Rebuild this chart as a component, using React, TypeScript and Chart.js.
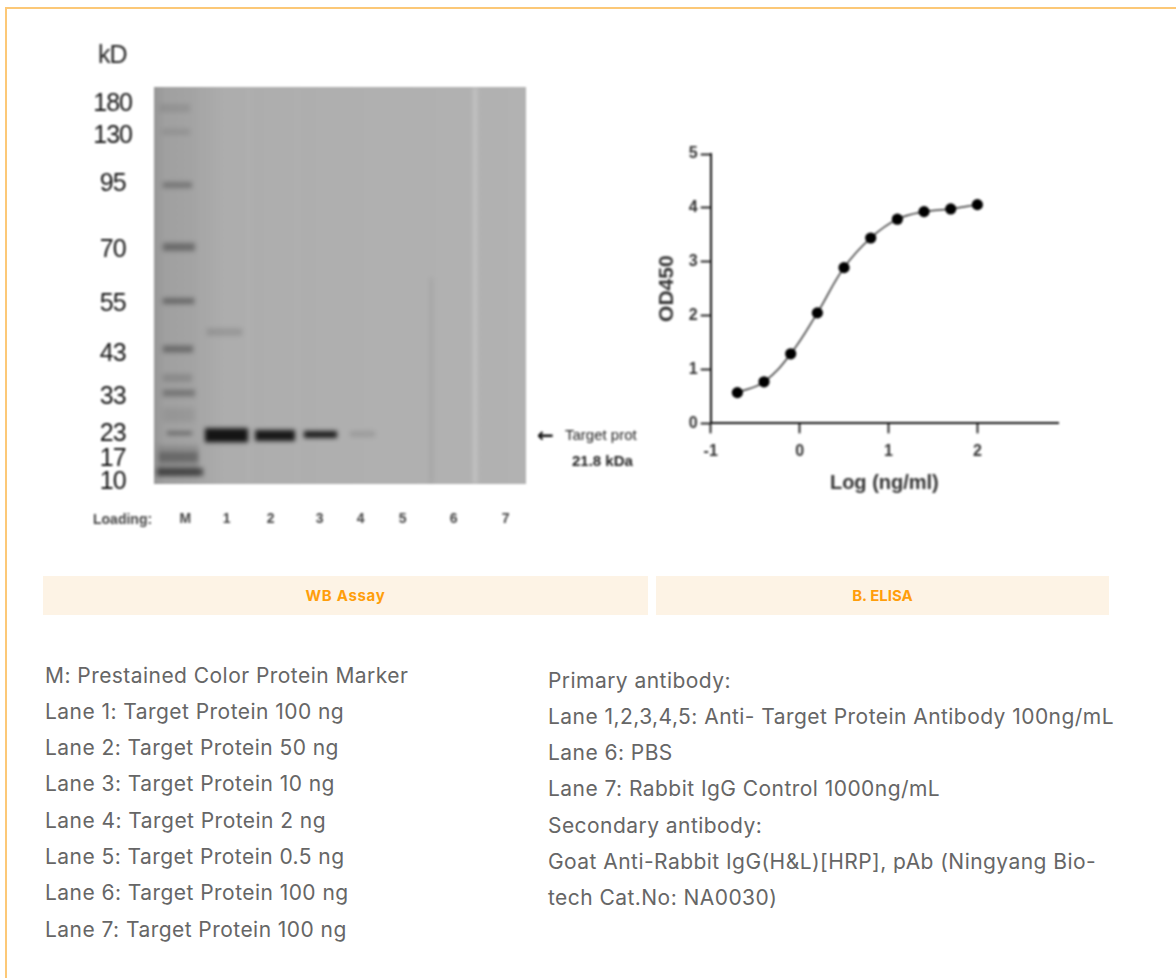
import React, { useEffect, useRef } from "react";
import { Chart, registerables } from "chart.js";

Chart.register(...registerables);

// ELISA curve
const logConc = [-0.7, -0.4, -0.1, 0.2, 0.5, 0.8, 1.1, 1.4, 1.7, 2.0];
const od450 = [0.57, 0.77, 1.29, 2.05, 2.89, 3.44, 3.79, 3.93, 3.98, 4.06];
const xTicksElisa = [-1, 0, 1, 2];
const yTicksElisa = [0, 1, 2, 3, 4, 5];

// Western blot: lanes (percent of membrane width) and ladder (percent of membrane height)
const laneLabels = ["M", "1", "2", "3", "4", "5", "6", "7"];
const laneAcross = [8.3, 19.4, 31.2, 44.4, 55.4, 66.7, 80.4, 94.4];
const kdLabels = ["180", "130", "95", "70", "55", "43", "33", "23", "17", "10"];
const kdMigration = [4.4, 12.3, 24.4, 41.1, 54.7, 67.3, 78.1, 87.4, 93.7, 99.6];

// Bands on the membrane
const bandStart = [1.6, 2.2, 2.4, 2.4, 2.4, 2.4, 2.4, 2.4, 3.5, 1.3, 0.8, 14.2, 13.7, 27.2, 40.3, 52.7, 1.0, 2.4];
const bandEnd = [9.7, 9.7, 10.2, 11.0, 10.8, 10.5, 10.2, 11.0, 10.2, 11.8, 13.2, 23.7, 25.3, 37.9, 49.2, 59.4, 12.0, 10.8];
const bandMigration = [5.3, 11.3, 24.7, 40.3, 53.9, 66.0, 73.3, 77.1, 87.2, 93.2, 97.0, 61.7, 87.7, 87.8, 87.5, 87.4, 94.0, 82.6];
const bandThickness = [8, 6, 6, 8, 6, 7, 8, 7, 3, 10, 8, 7, 14, 11, 7, 5, 30, 14];
const bandSignal = [0.1, 0.1, 0.3, 0.38, 0.4, 0.38, 0.16, 0.3, 0.5, 0.3, 0.6, 0.14, 1, 0.97, 0.95, 0.14, 0.14, 0.07];

// Faint marks on the membrane: vertical streaks (percent across, from, to)
const streakAcross = [86.3, 74.5, 25.5, 38.5, 12.5];
const streakFrom = [0, 48, 0, 0, 0];
const streakTo = [100, 100, 100, 100, 100];
const streakTone = [0.5, -0.14, 0.08, 0.06, 0.05];

const leftNotes = [
  "M: Prestained Color Protein Marker",
  "Lane 1: Target Protein 100 ng",
  "Lane 2: Target Protein 50 ng",
  "Lane 3: Target Protein 10 ng",
  "Lane 4: Target Protein 2 ng",
  "Lane 5: Target Protein 0.5 ng",
  "Lane 6: Target Protein 100 ng",
  "Lane 7: Target Protein 100 ng",
];
const rightNotes = [
  "Primary antibody:",
  "Lane 1,2,3,4,5: Anti- Target Protein Antibody 100ng/mL",
  "Lane 6: PBS",
  "Lane 7: Rabbit IgG Control 1000ng/mL",
  "Secondary antibody:",
  "Goat Anti-Rabbit IgG(H&L)[HRP], pAb (Ningyang Bio-",
  "tech Cat.No: NA0030)",
];

const NOTE_FONT = "Inter, sans-serif";

const membranePlugin = {
  id: "membrane",
  beforeLayout(chart: any) {
    chart.ctx.letterSpacing = "-1px";
  },
  beforeDraw(chart: any) {
    chart.ctx.letterSpacing = "-1px";
  },
  beforeDatasetsDraw(chart: any) {
    const { ctx, chartArea: a } = chart;
    ctx.save();
    const g = ctx.createLinearGradient(a.left, 0, a.right, 0);
    g.addColorStop(0, "#969696");
    g.addColorStop(0.03, "#a0a0a0");
    g.addColorStop(0.11, "#a4a4a4");
    g.addColorStop(0.19, "#adadad");
    g.addColorStop(0.6, "#b0b0b0");
    g.addColorStop(1, "#b2b2b2");
    ctx.fillStyle = g;
    ctx.fillRect(a.left, a.top, a.right - a.left, a.bottom - a.top);
    ctx.restore();
    ctx.save();
    ctx.filter = "blur(1.9px)";
  },
  afterDatasetsDraw(chart: any) {
    chart.ctx.restore();
  },
};

function makeBlot(canvas: HTMLCanvasElement) {
  const streaks = streakAcross.map((x, i) => ({
    data: [
      { x, y: streakFrom[i] },
      { x, y: streakTo[i] },
    ],
    showLine: true,
    pointRadius: 0,
    borderWidth: 2,
    borderColor: streakTone[i] > 0 ? `rgba(255,255,255,${streakTone[i]})` : `rgba(40,40,40,${-streakTone[i]})`,
  }));
  const bands = bandStart.map((s, i) => ({
    data: [
      { x: s, y: bandMigration[i] },
      { x: bandEnd[i], y: bandMigration[i] },
    ],
    showLine: true,
    pointRadius: 0,
    borderWidth: bandThickness[i],
    borderColor: `rgba(20,20,20,${bandSignal[i]})`,
    borderCapStyle: "butt",
  }));
  return new Chart(canvas, {
    type: "scatter",
    data: { datasets: [...streaks, ...bands] as any },
    plugins: [membranePlugin],
    options: {
      responsive: false,
      animation: false,
      layout: { padding: { top: 17, right: 14, left: 0, bottom: 0 } },
      plugins: { legend: { display: false }, tooltip: { enabled: false } },
      scales: {
        x: {
          type: "linear",
          min: 0,
          max: 100,
          grid: { display: false, drawTicks: false },
          border: { display: false },
          afterFit: (s: any) => {
            s.height = 56;
          },
          afterBuildTicks: (s: any) => {
            s.ticks = laneAcross.map((v) => ({ value: v }));
          },
          ticks: {
            autoSkip: false,
            maxRotation: 0,
            padding: 27,
            color: "#444",
            font: { family: "'Liberation Sans'", size: 14, weight: "bold" },
            callback: (v: any) => laneLabels[laneAcross.indexOf(v)] ?? "",
          },
        },
        y: {
          type: "linear",
          reverse: true,
          min: 0,
          max: 100,
          grid: { display: false, drawTicks: false },
          border: { display: false },
          afterFit: (s: any) => {
            s.width = 82;
            s.paddingTop = 0;
            s.paddingBottom = 0;
          },
          afterBuildTicks: (s: any) => {
            s.ticks = kdMigration.map((v) => ({ value: v }));
          },
          ticks: {
            autoSkip: false,
            crossAlign: "center",
            padding: 22,
            color: "#111",
            font: { family: "'Liberation Sans'", size: 25 },
            callback: (v: any) => kdLabels[kdMigration.indexOf(v)] ?? "",
          },
        },
      },
    } as any,
  });
}

function makeElisa(canvas: HTMLCanvasElement) {
  const font = { family: "'Liberation Sans', Arial", size: 16, weight: "bold" };
  return new Chart(canvas, {
    type: "scatter",
    data: {
      datasets: [
        {
          data: logConc.map((x, i) => ({ x, y: od450[i] })),
          showLine: true,
          tension: 0.4,
          borderColor: "#333",
          borderWidth: 1.5,
          pointRadius: 5.6,
          pointBackgroundColor: "#000",
          pointBorderWidth: 0,
        },
      ] as any,
    },
    options: {
      responsive: false,
      animation: false,
      layout: { padding: { top: 24, right: 12, left: 0, bottom: 0 } },
      plugins: { legend: { display: false }, tooltip: { enabled: false } },
      scales: {
        x: {
          type: "linear",
          min: -1,
          max: 2.907,
          grid: { drawOnChartArea: false, tickLength: 10, tickColor: "#111", tickWidth: 1.8 },
          border: { color: "#111", width: 2 },
          afterFit: (s: any) => {
            s.height = 86.7;
          },
          afterBuildTicks: (s: any) => {
            s.ticks = xTicksElisa.map((v) => ({ value: v }));
          },
          ticks: { color: "#333", padding: 9, font, maxRotation: 0, autoSkip: false },
          title: {
            display: true,
            text: "Log (ng/ml)",
            color: "#333",
            font: { family: "'Liberation Sans', Arial", size: 20, weight: "bold" },
            padding: { top: 0, bottom: 15 },
          },
        },
        y: {
          type: "linear",
          min: 0,
          max: 5,
          grid: { drawOnChartArea: false, tickLength: 10, tickColor: "#111", tickWidth: 1.8 },
          border: { color: "#111", width: 2 },
          afterFit: (s: any) => {
            s.width = 60.7;
          },
          afterBuildTicks: (s: any) => {
            s.ticks = yTicksElisa.map((v) => ({ value: v }));
          },
          ticks: { color: "#333", padding: 3, font },
          title: {
            display: true,
            text: "OD450",
            color: "#333",
            font: { family: "'Liberation Sans', Arial", size: 21, weight: "bold" },
            padding: { top: 5, bottom: 0 },
          },
        },
      },
    } as any,
  });
}

const abs = (left: number, top: number, extra: React.CSSProperties = {}): React.CSSProperties => ({
  position: "absolute",
  left,
  top,
  whiteSpace: "nowrap",
  ...extra,
});

const gelFont = "'Liberation Sans', sans-serif";

export default function App() {
  const blotRef = useRef<HTMLCanvasElement>(null);
  const elisaRef = useRef<HTMLCanvasElement>(null);
  useEffect(() => {
    const a = makeBlot(blotRef.current!);
    const b = makeElisa(elisaRef.current!);
    return () => {
      a.destroy();
      b.destroy();
    };
  }, []);

  const note: React.CSSProperties = { fontSize: 21, lineHeight: "30px", color: "#666", letterSpacing: 0.45 };

  return (
    <div
      style={{
        position: "absolute",
        left: 0,
        top: 0,
        width: 1176,
        height: 978,
        overflow: "hidden",
        background: "#fff",
        fontFamily: NOTE_FONT,
      }}
    >
      <div style={{ position: "absolute", left: 5, top: 7, right: 0, height: 1.5, background: "#fcc877" }} />
      <div style={{ position: "absolute", left: 5, top: 7, bottom: 0, width: 1.5, background: "#fcc877" }} />

      <canvas
        ref={blotRef}
        width={468}
        height={470}
        style={{ position: "absolute", left: 72, top: 70, width: 468, height: 470, filter: "blur(0.8px)" }}
      />
      <canvas
        ref={elisaRef}
        width={420}
        height={380}
        style={{ position: "absolute", left: 650, top: 130, width: 420, height: 380, filter: "blur(0.8px)" }}
      />

      <div style={{ filter: "blur(0.8px)" }}>
        <div style={abs(98, 40, { fontFamily: gelFont, fontSize: 25, color: "#222", lineHeight: "28px", letterSpacing: -1 })}>kD</div>
        <div style={abs(93, 510, { fontFamily: gelFont, fontSize: 14, fontWeight: 700, color: "#444", lineHeight: "18px" })}>
          Loading:
        </div>
        <div style={abs(537, 425, { fontFamily: "'DejaVu Sans', sans-serif", fontSize: 20, fontWeight: 700, color: "#111", lineHeight: "20px" })}>←</div>
        <div style={abs(565, 425, { fontFamily: gelFont, fontSize: 15, color: "#222", lineHeight: "20px" })}>
          Target prot
        </div>
        <div style={abs(572, 451, { fontFamily: gelFont, fontSize: 15, fontWeight: 700, color: "#222", lineHeight: "20px" })}>
          21.8 kDa
        </div>
      </div>

      <div
        style={abs(43, 576, {
          width: 605,
          height: 39,
          background: "#fdf3e5",
          textAlign: "center",
          lineHeight: "39px",
          fontSize: 15,
          fontWeight: 700,
          letterSpacing: 0.7,
          color: "#ff9e0b",
        })}
      >
        WB Assay
      </div>
      <div
        style={abs(656, 576, {
          width: 453,
          height: 39,
          background: "#fdf3e5",
          textAlign: "center",
          lineHeight: "39px",
          fontSize: 15,
          fontWeight: 700,
          color: "#ff9e0b",
        })}
      >
        B. ELISA
      </div>

      {leftNotes.map((t, i) => (
        <div key={t + i} style={abs(45, 660.5 + i * 36.3, note)}>
          {t}
        </div>
      ))}
      {rightNotes.map((t, i) => (
        <div key={t + i} style={abs(548, 665.5 + i * 36.3, note)}>
          {t}
        </div>
      ))}
    </div>
  );
}
